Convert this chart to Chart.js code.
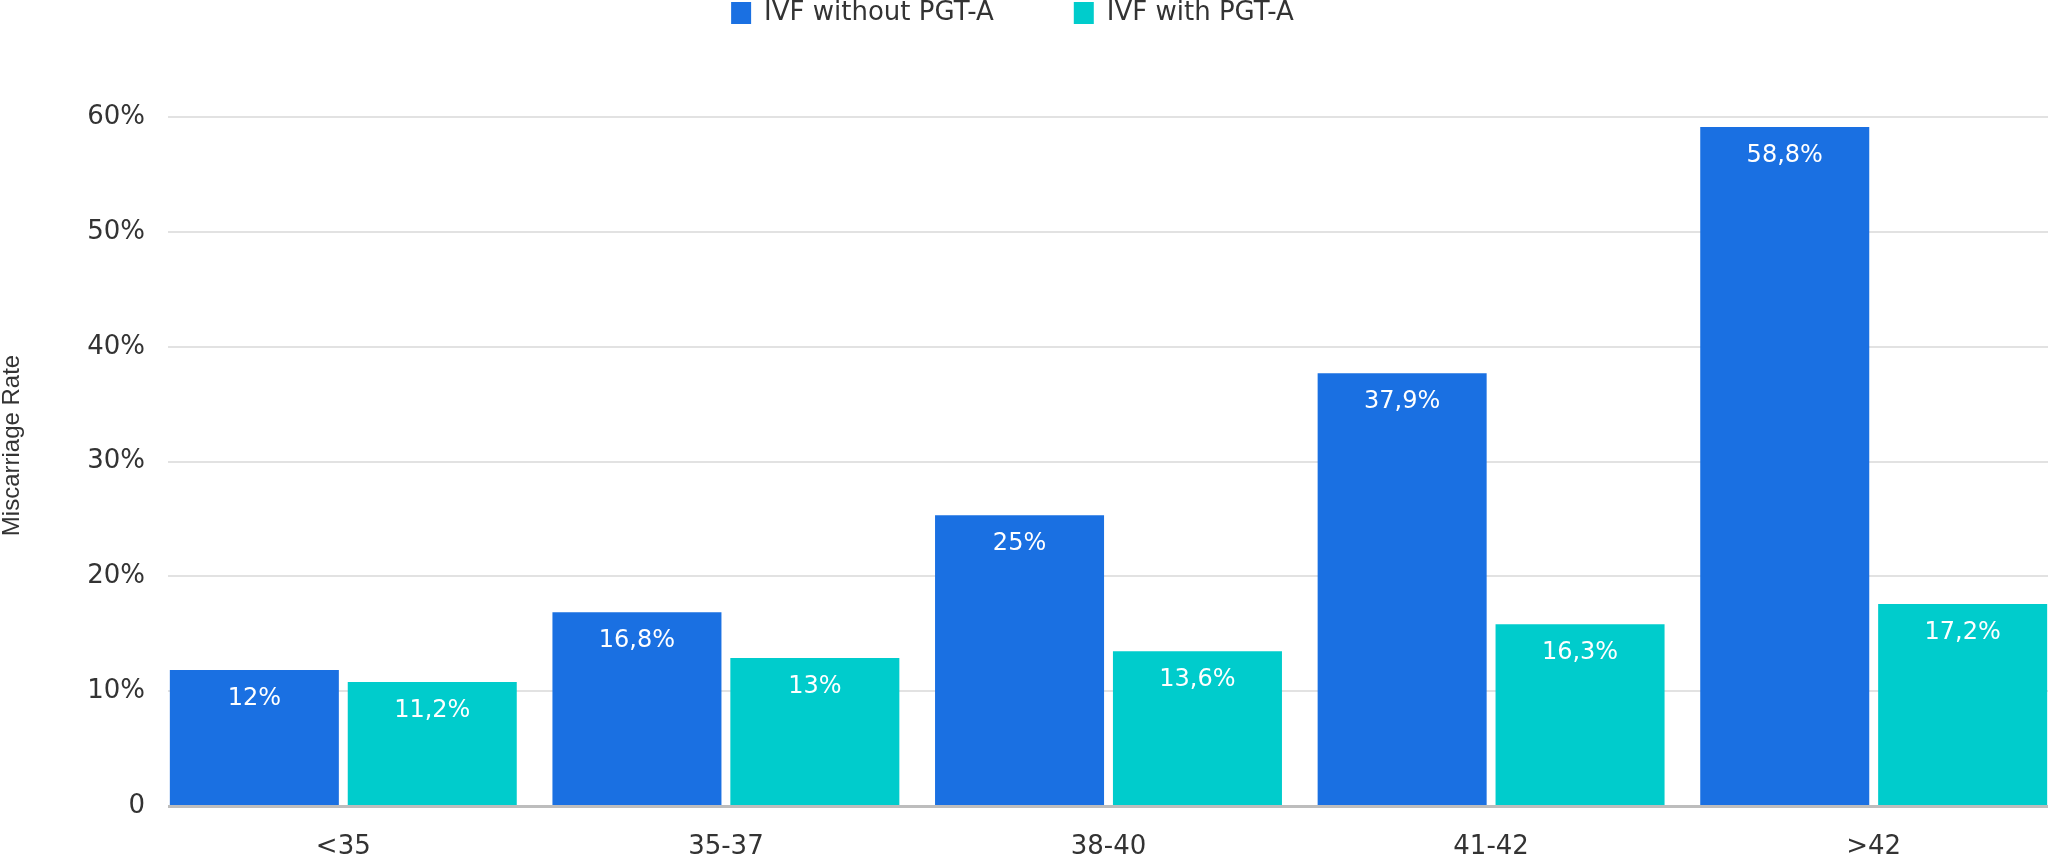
<!DOCTYPE html>
<html>
<head>
<meta charset="utf-8">
<script src="https://cdn.jsdelivr.net/npm/chart.js@4"></script>
<style>
  html, body { margin: 0; padding: 0; background: #fff; overflow: hidden; }
  #wrap { width: 2070px; height: 860px; }
</style>
</head>
<body>
<div id="wrap"><canvas id="barchart"></canvas></div>
<script>
// data
const ageGroups = ['<35', '35-37', '38-40', '41-42', '>42'];
const seriesNames = ['IVF without PGT-A', 'IVF with PGT-A'];
const withoutPgta = [11.85, 16.88, 25.33, 37.7, 59.15];   // bar heights
const withPgta = [10.8, 12.9, 13.48, 15.83, 17.6];
const withoutPgtaLabels = [12, 16.8, 25, 37.9, 58.8];     // printed values
const withPgtaLabels = [11.2, 13, 13.6, 16.3, 17.2];
const yTicks = [0, 10, 20, 30, 40, 50, 60];

const FONT = 'DejaVu Sans';
const TEXT = '#333333';

function pct(v) {
    return String(v).replace('.', ',') + '%';
}

// push the legend to the very top and leave room below it
const legendSpace = {
    id: 'legendSpace',
    beforeInit(chart) {
        const fit = chart.legend.fit;
        chart.legend.fit = function () {
            fit.bind(chart.legend)();
            this.height = 165;
        };
    },
    afterLayout(chart) {
        chart.legend.left -= 20;
        chart.legend.right -= 20;
    }
};

// grid lines start a little right of the plot edge
const gridInset = {
    id: 'gridInset',
    beforeDatasetsDraw(chart) {
        const a = chart.chartArea;
        const c = chart.ctx;
        c.save();
        c.fillStyle = '#ffffff';
        c.fillRect(a.left - 1, a.top - 3, 17, a.bottom - a.top + 8);
        c.restore();
    }
};

// value labels inside the top of each bar
const valueLabels = {
    id: 'valueLabels',
    afterDatasetsDraw(chart) {
        const c = chart.ctx;
        const texts = [withoutPgtaLabels, withPgtaLabels];
        c.save();
        c.font = '24px "' + FONT + '"';
        c.fillStyle = '#ffffff';
        c.textAlign = 'center';
        c.textBaseline = 'middle';
        chart.data.datasets.forEach((ds, d) => {
            chart.getDatasetMeta(d).data.forEach((bar, i) => {
                c.fillText(pct(texts[d][i]), bar.x, bar.y + 29);
            });
        });
        c.restore();
    }
};

const ctx = document.getElementById('barchart').getContext('2d');
const barchart = new Chart(ctx, {
    type: 'bar',
    data: {
        labels: ageGroups,
        datasets: [{
            label: seriesNames[0],
            data: withoutPgta,
            backgroundColor: '#1a70e2',
            borderWidth: 0,
            categoryPercentage: 0.93,
            barPercentage: 0.95
        }, {
            label: seriesNames[1],
            data: withPgta,
            backgroundColor: '#00cccc',
            borderWidth: 0,
            categoryPercentage: 0.93,
            barPercentage: 0.95
        }]
    },
    options: {
        responsive: true,
        maintainAspectRatio: false,
        animation: false,
        layout: {
            padding: { top: -80, right: 5, left: 0, bottom: 0 }
        },
        plugins: {
            legend: {
                position: 'top',
                labels: {
                    boxWidth: 20,
                    boxHeight: 22,
                    padding: 80,
                    color: TEXT,
                    font: { family: FONT, size: 26 }
                }
            },
            tooltip: { enabled: false }
        },
        scales: {
            x: {
                grid: { display: false },
                border: { display: true, color: '#bdbdbd', width: 3 },
                ticks: {
                    color: TEXT,
                    padding: 18,
                    font: { family: FONT, size: 26 }
                },
                afterFit(scale) { scale.height = 54; }
            },
            y: {
                min: 0,
                max: 62.8,
                border: { display: false },
                grid: { color: '#e2e2e2', lineWidth: 2, drawTicks: false },
                ticks: {
                    stepSize: 10,
                    includeBounds: false,
                    padding: 7,
                    color: TEXT,
                    font: { family: FONT, size: 26 },
                    callback: (v) => yTicks.includes(v) ? (v === 0 ? '0' : v + '%') : ''
                },
                title: {
                    display: true,
                    text: 'Miscarriage Rate',
                    color: TEXT,
                    padding: 0,
                    font: { family: 'Liberation Sans', size: 24, lineHeight: 1 }
                },
                afterFit(scale) { scale.width = 152; }
            }
        }
    },
    plugins: [legendSpace, gridInset, valueLabels]
});
</script>
</body>
</html>
